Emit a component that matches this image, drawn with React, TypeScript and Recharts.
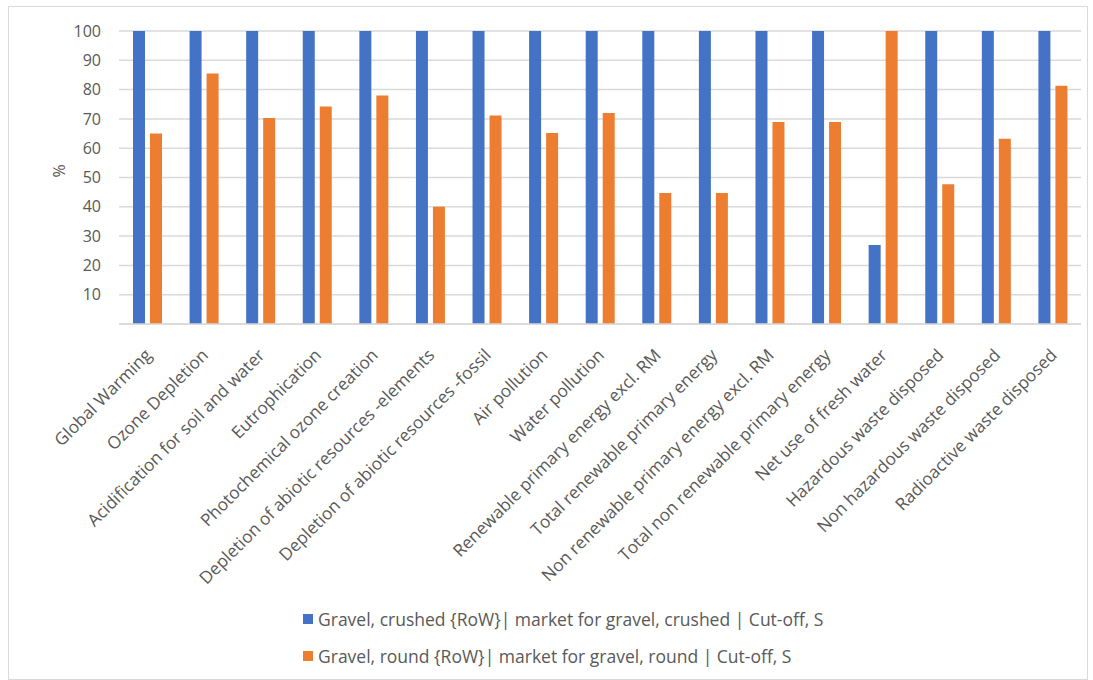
import { BarChart, Bar, XAxis, YAxis, CartesianGrid, Legend } from 'recharts';

const categories = [
  'Global Warming',
  'Ozone Depletion',
  'Acidification for soil and water',
  'Eutrophication',
  'Photochemical ozone creation',
  'Depletion of abiotic resources -elements',
  'Depletion of abiotic resources -fossil',
  'Air pollution',
  'Water pollution',
  'Renewable primary energy excl. RM',
  'Total renewable primary energy',
  'Non renewable primary energy excl. RM',
  'Total non renewable primary energy',
  'Net use of fresh water',
  'Hazardous waste disposed',
  'Non hazardous waste disposed',
  'Radioactive waste disposed',
];

const crushed = [100, 100, 100, 100, 100, 100, 100, 100, 100, 100, 100, 100, 100, 27, 100, 100, 100];
const round = [65, 85.5, 70.3, 74.2, 78, 40, 71.2, 65.2, 72, 44.7, 44.7, 68.9, 68.9, 100, 47.7, 63.2, 81.3];

const yTicks = [0, 10, 20, 30, 40, 50, 60, 70, 80, 90, 100];

const seriesNames = [
  'Gravel, crushed {RoW}| market for gravel, crushed | Cut-off, S',
  'Gravel, round {RoW}| market for gravel, round | Cut-off, S',
];

const BLUE = '#4472C4';
const ORANGE = '#ED7D31';
const TEXT = '#595959';
const FONT = '"Open Sans", sans-serif';

const data = categories.map((name, i) => ({ name, crushed: crushed[i], round: round[i] }));

const AngledTick = ({ x, y, payload }: any) => (
  <g transform={`translate(${x + 1},${y + 20})`}>
    <text
      x={0}
      y={0}
      dy="0.35em"
      textAnchor="end"
      transform="rotate(-45)"
      fill={TEXT}
      fontSize={17.2}
      fontFamily={FONT}
    >
      {payload.value}
    </text>
  </g>
);

const LegendBox = () => (
  <div style={{ height: 75, paddingLeft: 274, fontFamily: FONT, fontSize: 17.5, color: TEXT }}>
    {seriesNames.map((s, i) => (
      <div key={s} style={{ display: 'flex', alignItems: 'center', height: 37, marginTop: i === 0 ? 3 : 0 }}>
        <span style={{ width: 10, height: 10, background: i === 0 ? BLUE : ORANGE, marginRight: 5, display: 'inline-block' }} />
        <span>{s}</span>
      </div>
    ))}
  </div>
);

export default function App() {
  return (
    <div
      style={{
        position: 'absolute',
        left: 8,
        top: 6,
        width: 1080,
        height: 674,
        border: '1px solid #D9D9D9',
        background: '#fff',
        boxSizing: 'border-box',
      }}
    >
      <BarChart
        width={1078}
        height={672}
        data={data}
        margin={{ top: 24, right: 6, left: 20, bottom: 4 }}
        barSize={12}
        barGap={5}
      >
        <CartesianGrid vertical={false} stroke="#D9D9D9" strokeWidth={1.5} />
        <XAxis
          dataKey="name"
          interval={0}
          height={273}
          tick={<AngledTick />}
          tickLine={false}
          axisLine={{ stroke: '#D9D9D9', strokeWidth: 1.5 }}
        />
        <YAxis
          domain={[0, 100]}
          ticks={yTicks}
          width={90}
          tickLine={false}
          axisLine={false}
          tickMargin={12}
          tickFormatter={(v: number) => (v === 0 ? '' : String(v))}
          tick={{ fill: TEXT, fontSize: 16, fontFamily: FONT }}
          label={{ value: '%', angle: -90, position: 'insideLeft', offset: 30, fill: TEXT, fontSize: 16, fontFamily: FONT }}
        />
        <Legend verticalAlign="bottom" align="left" content={<LegendBox />} />
        <Bar dataKey="crushed" name={seriesNames[0]} fill={BLUE} isAnimationActive={false} />
        <Bar dataKey="round" name={seriesNames[1]} fill={ORANGE} isAnimationActive={false} />
      </BarChart>
    </div>
  );
}
